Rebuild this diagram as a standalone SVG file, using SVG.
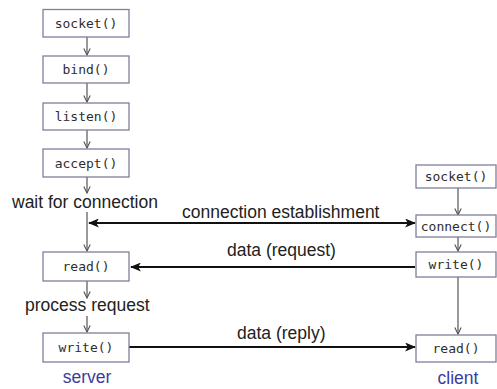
<svg xmlns="http://www.w3.org/2000/svg" width="497" height="389" viewBox="0 0 497 389">
<defs>
<style>
.box{fill:#fff;stroke:#7f7f9c;stroke-width:1.3}
.fn{font-family:"DejaVu Sans Mono","Liberation Mono",monospace;font-size:13px;fill:#2e2e2e;text-anchor:middle;dominant-baseline:central}
.lbl{font-family:"Liberation Sans",Arial,sans-serif;font-size:17.5px;fill:#222}
.role{font-family:"Liberation Sans",Arial,sans-serif;font-size:17.5px;fill:#3c3ca0;text-anchor:middle}
.v{stroke:#555;stroke-width:1.2;fill:none}
.h{stroke:#111;stroke-width:2.2;fill:none}
</style>
<marker id="open" viewBox="0 0 10 10" refX="9" refY="5" markerWidth="8" markerHeight="8" markerUnits="userSpaceOnUse" orient="auto">
<path d="M1,1 L9,5 L1,9" fill="none" stroke="#555" stroke-width="1.4"/>
</marker>
<marker id="solid" viewBox="0 0 12 10" refX="11" refY="5" markerWidth="11" markerHeight="9" markerUnits="userSpaceOnUse" orient="auto-start-reverse">
<path d="M0,0 L12,5 L0,10 L3,5 Z" fill="#111"/>
</marker>
</defs>
<rect width="497" height="389" fill="#fff"/>
<g id="connectors">
<line class="v" x1="87" y1="37" x2="87" y2="55" marker-end="url(#open)"/>
<line class="v" x1="87" y1="83" x2="87" y2="102" marker-end="url(#open)"/>
<line class="v" x1="87" y1="130" x2="87" y2="148" marker-end="url(#open)"/>
<line class="v" x1="87" y1="177" x2="87" y2="193" marker-end="url(#open)"/>
<line class="v" x1="87" y1="212" x2="87" y2="251" marker-end="url(#open)"/>
<line class="v" x1="87" y1="281" x2="87" y2="298" marker-end="url(#open)"/>
<line class="v" x1="87" y1="316" x2="87" y2="332" marker-end="url(#open)"/>
<line class="v" x1="458" y1="188" x2="458" y2="215" marker-end="url(#open)"/>
<line class="v" x1="458" y1="237" x2="458" y2="251" marker-end="url(#open)"/>
<line class="v" x1="458" y1="277" x2="458" y2="334" marker-end="url(#open)"/>
<line class="h" x1="89" y1="223" x2="415" y2="223" marker-start="url(#solid)" marker-end="url(#solid)"/>
<line class="h" x1="415" y1="267" x2="131" y2="267" marker-end="url(#solid)"/>
<line class="h" x1="129" y1="347" x2="415" y2="347" marker-end="url(#solid)"/>
<text class="lbl" x="182" y="218">connection establishment</text>
<text class="lbl" x="227" y="256">data (request)</text>
<text class="lbl" x="237" y="339">data (reply)</text>
</g>
<g id="s-socket"><rect class="box" x="43" y="9.5" width="86" height="27.5"/><text class="fn" x="86" y="23">socket()</text></g>
<g id="s-bind"><rect class="box" x="43" y="56" width="86" height="27"/><text class="fn" x="86" y="69.5">bind()</text></g>
<g id="s-listen"><rect class="box" x="43" y="103" width="86" height="27"/><text class="fn" x="86" y="116.5">listen()</text></g>
<g id="s-accept"><rect class="box" x="43" y="149" width="86" height="28"/><text class="fn" x="86" y="163">accept()</text></g>
<g id="wait"><text class="lbl" x="12" y="208">wait for connection</text></g>
<g id="s-read"><rect class="box" x="43" y="252" width="86" height="29"/><text class="fn" x="86" y="266.5">read()</text></g>
<g id="process"><text class="lbl" x="25" y="311">process request</text></g>
<g id="s-write"><rect class="box" x="43" y="333" width="86" height="29"/><text class="fn" x="86" y="347.5">write()</text></g>
<g id="server"><text class="role" x="87" y="383">server</text></g>
<g id="c-socket"><rect class="box" x="416" y="165" width="80" height="23"/><text class="fn" x="456" y="176.5">socket()</text></g>
<g id="c-connect"><rect class="box" x="416" y="215" width="80" height="22"/><text class="fn" x="456" y="226">connect()</text></g>
<g id="c-write"><rect class="box" x="416" y="252" width="80" height="25"/><text class="fn" x="456" y="264.5">write()</text></g>
<g id="c-read"><rect class="box" x="416" y="335" width="80" height="27"/><text class="fn" x="456" y="348.5">read()</text></g>
<g id="client"><text class="role" x="458" y="384">client</text></g>
</svg>
